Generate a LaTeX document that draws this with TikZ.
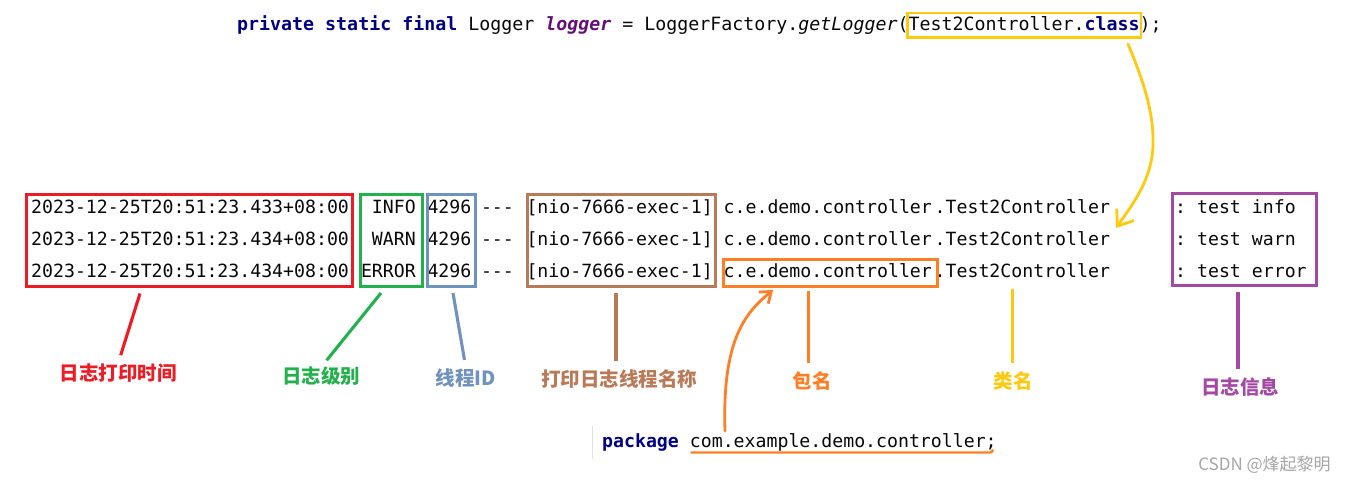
\documentclass[tikz,border=0pt]{standalone}
\usepackage{fontspec}
\setmonofont{DejaVu Sans Mono}
\newfontfamily\cjk{Noto Sans CJK SC}
\usetikzlibrary{arrows.meta}
\definecolor{mkred}{HTML}{ED1C24}
\definecolor{mkgreen}{HTML}{22B14C}
\definecolor{mkblue}{HTML}{7092BE}
\definecolor{mkbrown}{HTML}{B97A57}
\definecolor{mkorange}{HTML}{FF7F27}
\definecolor{mkyellow}{HTML}{FFC90E}
\definecolor{mkpurple}{HTML}{A349A4}
\definecolor{kwnavy}{HTML}{000080}
\definecolor{fieldpurple}{HTML}{660E7A}
\definecolor{codeink}{HTML}{080808}
\definecolor{wmgray}{HTML}{A6A6A6}
\newcommand\kw[1]{\textcolor{kwnavy}{\bfseries #1}}
\tikzset{
  code/.style = {font=\ttfamily\fontsize{18.2}{22}\selectfont, inner sep=0pt, anchor=base west, text=codeink},
  markbox/.style = {draw=#1, line width=3pt, inner sep=0pt, anchor=north west},
  tag/.style = {font=\cjk\bfseries\fontsize{19.5}{22}\selectfont, text=#1, inner sep=0pt, text height=16pt, text depth=1pt},
  pointer/.style = {draw=#1, line width=3.1pt, shorten >=9pt},
  curlarrow/.style = {draw=#1, line width=2.8pt, line cap=round}
}

\begin{document}
\begin{tikzpicture}[x=1pt, y=-1pt]
\fill[white] (0,0) rectangle (1346,482);
\useasboundingbox (0,0) rectangle (1346,482);

% Draw the declaration line
\node[code, font=\ttfamily\fontsize{18.28}{22}\selectfont] (decl) at (237,30.7) {\kw{private static final} Logger \textcolor{fieldpurple}{\bfseries\itshape logger} = LoggerFactory.\textit{getLogger}(Test2Controller.\kw{class});};
\node[markbox=mkyellow, line width=2.6pt, minimum width=233.5pt, minimum height=24.5pt] (clsbox) at (906.2,11.6) {};

% Draw the log lines
\foreach \lv/\ms/\ts [count=\i from 0] in {INFO/info/433, WARN/warn/434, ERROR/error/434} {
  \node[code] (ts\i) at (31,{213.5+32*\i}) {2023-12-25T20:51:23.\ts+08:00};
  \node[code, anchor=base east] (lv\i) at (416,{213.5+32*\i}) {\lv};
  \node[code] (tid\i) at (427.3,{213.5+32*\i}) {4296};
  \node[code] (sep\i) at (480.8,{213.5+32*\i}) {-{}-{}-};
  \node[code] (thr\i) at (526.3,{213.5+32*\i}) {[nio-7666-exec-1]};
  \node[code] (pkg\i) at (723.5,{213.5+32*\i}) {c.e.demo.controller};
  \node[code] (cls\i) at (934.5,{213.5+32*\i}) {.Test2Controller};
  \node[code] (msg\i) at (1175,{213.5+32*\i}) {: test \ms};
}

% Draw the boxes
\node[markbox=mkred, minimum width=326.5pt, minimum height=92pt] (timebox) at (24.5,192.5) {};
\node[markbox=mkgreen, minimum width=62pt, minimum height=92pt] (lvbox) at (358.5,192.5) {};
\node[markbox=mkblue, minimum width=48pt, minimum height=92pt] (tidbox) at (425.5,192.5) {};
\node[markbox=mkbrown, minimum width=188pt, minimum height=92pt] (thrbox) at (526,193) {};
\node[markbox=mkorange, minimum width=214pt, minimum height=27pt] (pkgbox) at (721.5,257.5) {};
\node[markbox=mkpurple, minimum width=144pt, minimum height=92pt] (msgbox) at (1170.5,191.5) {};

% Draw the labels
\node[tag=mkred] (timetag) at (118,372.5) {日志打印时间};
\node[tag=mkgreen] (lvtag) at (321,376) {日志级别};
\node[tag=mkblue] (tidtag) at (466,377.5) {线程ID};
\node[tag=mkbrown] (thrtag) at (619,379) {打印日志线程名称};
\node[tag=mkorange] (pkgtag) at (812,381) {包名};
\node[tag=mkyellow] (clstag) at (1013,381) {类名};
\node[tag=mkpurple] (msgtag) at (1240,387) {日志信息};

\coordinate (timept) at (140,293.5);
\coordinate (lvpt) at (381,293);
\coordinate (tidpt) at (453,293);
\coordinate (thrpt) at (616,293);
\coordinate (pkgpt) at (808.5,291);
\coordinate (clspt) at (1012.5,289);
\coordinate (msgpt) at (1238,292);

\draw[pointer=mkred] (timept) -- (timetag.north);
\draw[pointer=mkgreen] (lvpt) -- (lvtag.north);
\draw[pointer=mkblue] (tidpt) -- (tidtag.north);
\draw[pointer=mkbrown] (thrpt) -- (thrpt |- thrtag.north);
\draw[pointer=mkorange] (pkgpt) -- (pkgpt |- pkgtag.north);
\draw[pointer=mkyellow] (clspt) -- (clspt |- clstag.north);
\draw[pointer=mkpurple] (msgpt) -- (msgpt |- msgtag.north);

% Draw the package line
\draw[black!12, line width=1pt] (592,426) -- (592,459);
\node[code] (pkgkw) at (602,447.5) {\kw{package}};
\node[code] (pkgname) at (689.7,447.5) {com.example.demo.controller;};
\draw[mkorange, line width=2.4pt] ([xshift=1pt, yshift=-5pt]pkgname.base west) -- ([xshift=-6.5pt, yshift=-5pt]pkgname.base east) to[out=0, in=-110] ([xshift=-4pt, yshift=-2pt]pkgname.base east);

% Draw the curved arrows
\coordinate (pkgfoot) at (725,431);
\coordinate (pkgtip) at (773,290);
\draw[curlarrow=mkorange, -{Straight Barb[length=10pt, width=15pt]}] (pkgfoot) .. controls (722,340) and (745,313) .. (pkgtip);
\coordinate (clsfoot) at (1128,44);
\coordinate (clstip) at (1116,228);
\draw[curlarrow=mkyellow, -{Straight Barb[length=14pt, width=21pt]}] (clsfoot) .. controls (1143,80) and (1154,112) .. (1153,145) .. controls (1152,180) and (1132,205) .. (clstip);

% Draw the watermark
\node[font=\cjk\fontsize{17}{20}\selectfont, text=wmgray, inner sep=0pt] (wm) at (1264.5,464.5) {CSDN @烽起黎明};
\end{tikzpicture}
\end{document}
